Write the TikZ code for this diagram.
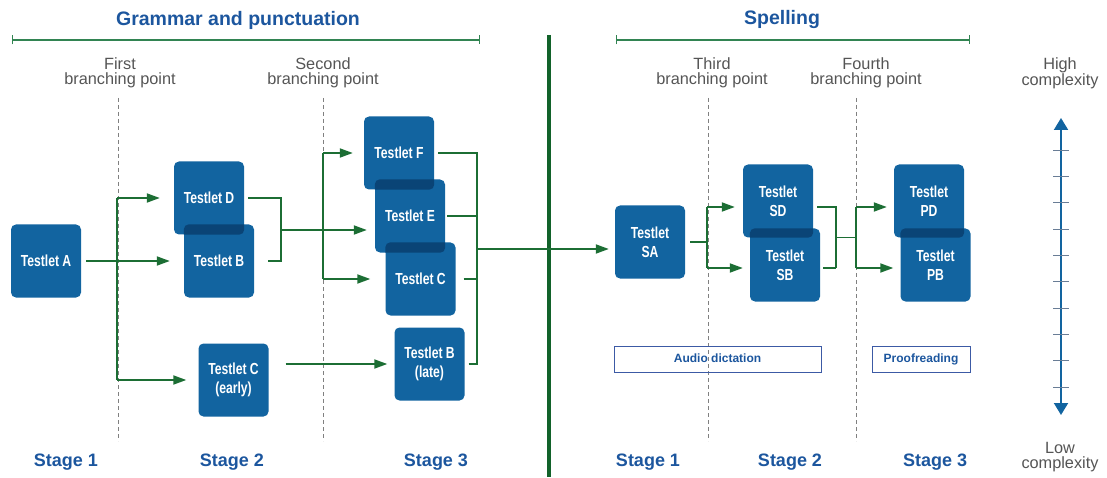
\documentclass[tikz,border=0pt]{standalone}
\usepackage{fontspec}
\setmainfont{Liberation Sans}
\newfontfamily\narrowfont{Liberation Sans}[FakeStretch=0.76]
\usetikzlibrary{arrows.meta}

\definecolor{boxblue}{RGB}{18,100,160}
\definecolor{overlapblue}{RGB}{10,68,118}
\definecolor{headblue}{RGB}{28,86,158}
\definecolor{framepurple}{RGB}{60,90,165}
\definecolor{flowgreen}{RGB}{28,110,52}
\definecolor{rulegreen}{RGB}{50,132,82}
\definecolor{divgreen}{RGB}{18,98,42}
\definecolor{labelgrey}{RGB}{85,85,85}
\definecolor{tickgrey}{RGB}{105,125,150}

\begin{document}
\begin{tikzpicture}[x=1pt,y=1pt,
    testlet/.style={fill=boxblue,rounded corners=5pt,minimum width=70pt,minimum height=73pt,
      inner sep=0pt,align=center,text=white,font=\narrowfont\bfseries\fontsize{16}{19}\selectfont},
    taskbox/.style={draw=framepurple,line width=1pt,minimum height=26pt,inner sep=0pt,
      text height=8.5pt,text depth=2.5pt,text=headblue,font=\bfseries\fontsize{12}{12}\selectfont},
    heading/.style={text=headblue,font=\bfseries\fontsize{19.5}{22}\selectfont},
    stage/.style={text=headblue,font=\bfseries\fontsize{18}{20}\selectfont},
    branch/.style={text=labelgrey,align=center,font=\fontsize{16.3}{14.5}\selectfont},
    link/.style={draw=flowgreen,line width=1.8pt},
    flow/.style={link,-{Triangle[length=13pt,width=9pt]}},
    guide/.style={draw=gray,dash pattern=on 4pt off 3pt,line width=0.8pt}]
    \useasboundingbox (0,0) rectangle (1107,477);

    % Headings
    \node[heading] (gp) at (238,457) {Grammar and punctuation};
    \node[heading] (sp) at (782,457) {Spelling};
    \draw[rulegreen,line width=1.4pt,{Bar[width=9pt]}-{Bar[width=9pt]}] (12,437) -- (480,437);
    \draw[rulegreen,line width=1.4pt,{Bar[width=9pt]}-{Bar[width=9pt]}] (616,437) -- (970,437);
    \draw[divgreen,line width=3.5pt] (549,442) -- (549,0);

    \node[branch] (bp1) at (120,404) {First\\branching point};
    \node[branch] (bp2) at (323,404) {Second\\branching point};
    \node[branch] (bp3) at (712,404) {Third\\branching point};
    \node[branch] (bp4) at (866,404) {Fourth\\branching point};
    \foreach \x in {118,323,708,856}{
    \draw[guide] (\x,379) -- (\x,36);
    }

    % Testlets
    \node[testlet] (A) at (46,216) {Testlet A};
    \node[testlet] (D) at (209,279) {Testlet D};
    \node[testlet] (B) at (219,216) {Testlet B};
    \node[testlet] (Cearly) at (233.5,97) {Testlet C\\(early)};
    \node[testlet] (F) at (399,324) {Testlet F};
    \node[testlet] (E) at (410,261) {Testlet E};
    \node[testlet] (C) at (420.5,198) {Testlet C};
    \node[testlet] (Blate) at (429.5,113) {Testlet B\\(late)};
    \node[testlet] (SA) at (650,235) {Testlet\\SA};
    \node[testlet] (SD) at (778,276) {Testlet\\SD};
    \node[testlet] (SB) at (785,212) {Testlet\\SB};
    \node[testlet] (PD) at (929,276) {Testlet\\PD};
    \node[testlet] (PB) at (935.5,212) {Testlet\\PB};

    \foreach \up/\lo in {D/B,F/E,E/C,SD/SB,PD/PB}{
    \begin{scope}
      \clip[rounded corners=5pt] (\up.south west) rectangle (\up.north east);
      \fill[overlapblue,rounded corners=5pt] (\lo.south west) rectangle (\lo.north east);
    \end{scope}
    }

    \node[taskbox,minimum width=207pt] (audio) at (717.5,118) {Audio dictation};
    \node[taskbox,minimum width=98pt] (proof) at (921,118) {Proofreading};

    % First branching point
    \coordinate (j1) at (117,0);
    \draw[flow,shorten <=5pt,shorten >=14pt] (A) -- (B);
    \draw[link] (j1 |- D) -- (j1 |- Cearly);
    \draw[flow,shorten >=14pt] (j1 |- D) -- (D);
    \draw[flow,shorten >=12pt] (j1 |- Cearly) -- (Cearly);

    % Second branching point
    \coordinate (m1) at (281,247);
    \coordinate (j2) at (323,0);
    \draw[link,shorten <=4pt] (D) -| (m1);
    \draw[link,shorten <=14pt] (B) -| (m1);
    \draw[flow,shorten >=8pt] (m1) -- (m1 -| E.west);
    \draw[link] (j2 |- F) -- (j2 |- C);
    \draw[flow,shorten >=11pt] (j2 |- F) -- (F);
    \draw[flow,shorten >=15pt] (j2 |- C) -- (C);
    \draw[flow,shorten <=17pt,shorten >=7pt] (Cearly.east |- Blate) -- (Blate);

    % On to spelling
    \coordinate (m2) at (477,228);
    \foreach \n/\s in {F/4pt,E/2pt,C/8pt,Blate/4pt}{
    \draw[link,shorten <=\s] (\n) -| (m2);
    }
    \draw[flow,shorten >=6pt] (m2) -- (m2 -| SA.west);

    % Third branching point
    \coordinate (j3) at (707,235);
    \coordinate (j3a) at (707,270);
    \coordinate (j3b) at (707,209);
    \draw[link,shorten <=5pt] (SA) -- (j3);
    \draw[link] (j3a) -- (j3b);
    \draw[flow,shorten >=8pt] (j3a) -- (j3a -| SD.west);
    \draw[flow,shorten >=7pt] (j3b) -- (j3b -| SB.west);

    % Fourth branching point
    \coordinate (m3a) at (836,270);
    \coordinate (m3b) at (836,209);
    \coordinate (m3) at (836,239.5);
    \coordinate (j4a) at (856,270);
    \coordinate (j4b) at (856,209);
    \draw[link,shorten <=4pt] (SD.east |- m3a) -- (m3a) -- (m3b);
    \draw[link,shorten <=3pt] (SB.east |- m3b) -- (m3b);
    \draw[link] (m3) -- (m3 -| j4a);
    \draw[link] (j4a) -- (j4b);
    \draw[flow,shorten >=7pt] (j4a) -- (j4a -| PD.west);
    \draw[flow,shorten >=7pt] (j4b) -- (j4b -| PB.west);

    % Complexity scale
    \node[branch] (hi) at (1060,404) {High\\complexity};
    \node[branch] (lo) at (1060,20) {Low\\complexity};
    \draw[boxblue,line width=2pt,{Triangle[length=12pt,width=14pt]}-{Triangle[length=12pt,width=14pt]}]
      (1061,62) -- (1061,359);
    \foreach \t in {0,...,9}{
    \draw[tickgrey,line width=1pt] ({1053},{90+\t*26.3}) -- ({1069},{90+\t*26.3});
    }

    % Stages
    \foreach \x/\lab in {66/Stage 1,232/Stage 2,436/Stage 3,648/Stage 1,790/Stage 2,935/Stage 3}{
    \node[stage] (st\x) at (\x,15) {\lab};
    }
\end{tikzpicture}
\end{document}
